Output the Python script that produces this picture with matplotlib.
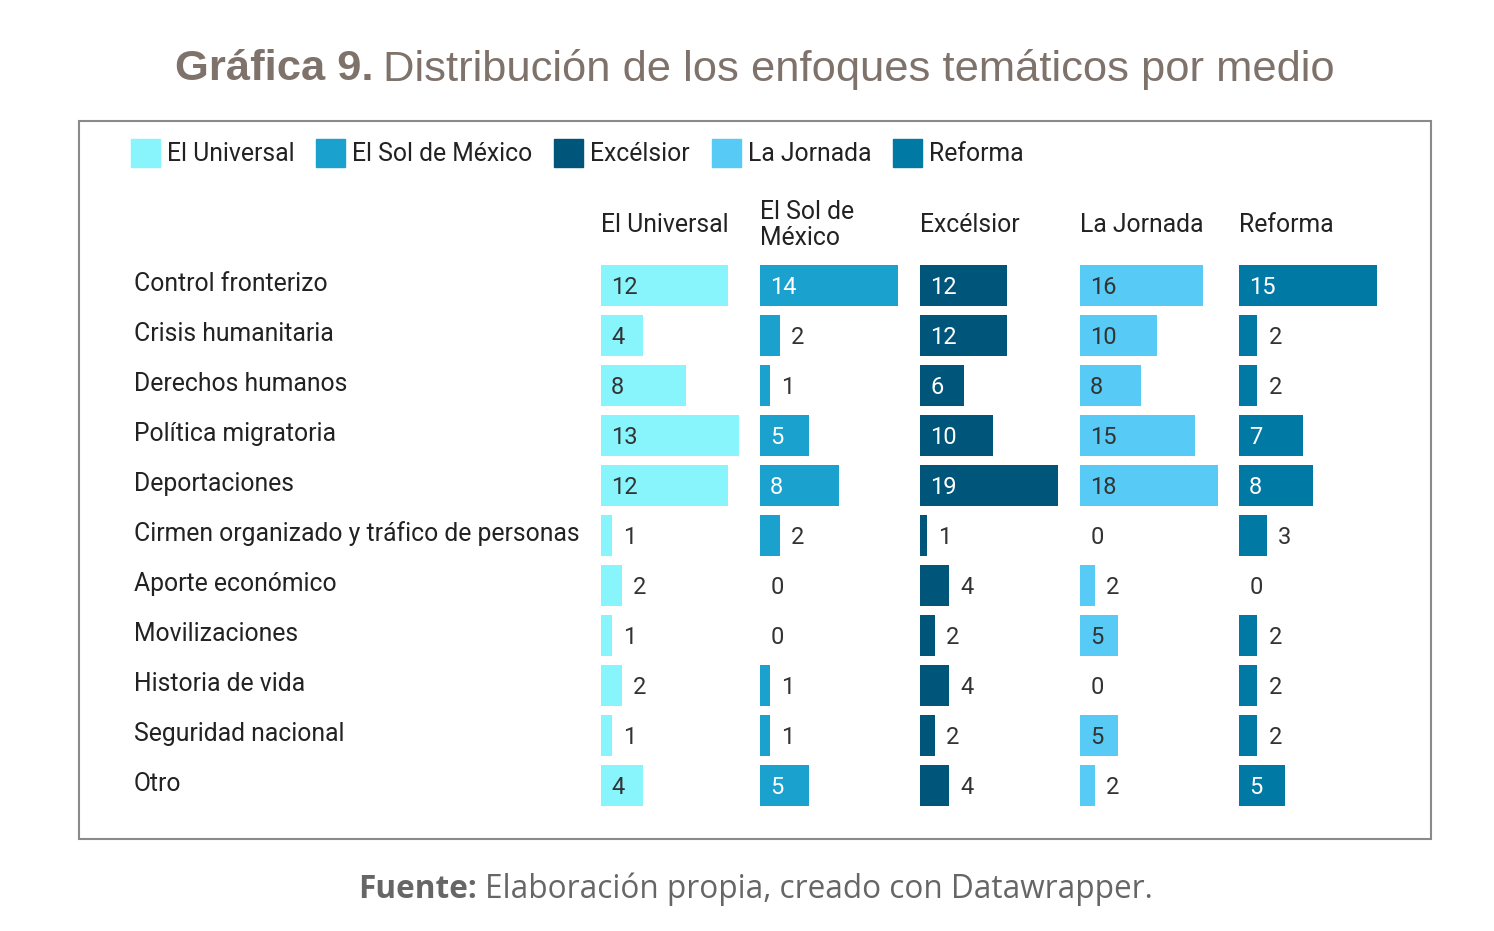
import matplotlib.pyplot as plt
from matplotlib.patches import Rectangle
from matplotlib.transforms import blended_transform_factory

# Datos
medios = ['El Universal', 'El Sol de México', 'Excélsior', 'La Jornada', 'Reforma']
encabezados = ['El Universal', 'El Sol de\nMéxico', 'Excélsior', 'La Jornada', 'Reforma']
temas = ['Control fronterizo', 'Crisis humanitaria', 'Derechos humanos', 'Política migratoria',
         'Deportaciones', 'Cirmen organizado y tráfico de personas', 'Aporte económico',
         'Movilizaciones', 'Historia de vida', 'Seguridad nacional', 'Otro']
el_universal = [12, 4, 8, 13, 12, 1, 2, 1, 2, 1, 4]
el_sol = [14, 2, 1, 5, 8, 2, 0, 0, 1, 1, 5]
excelsior = [12, 12, 6, 10, 19, 1, 4, 2, 4, 2, 4]
la_jornada = [16, 10, 8, 15, 18, 0, 2, 5, 0, 5, 2]
reforma = [15, 2, 2, 7, 8, 3, 0, 2, 2, 2, 5]
valores = [el_universal, el_sol, excelsior, la_jornada, reforma]

colores = ['#88f4fc', '#1aa1ce', '#00557a', '#58caf6', '#007aa5']
texto_dentro = ['#333333', 'white', 'white', '#333333', 'white']

W, H = 1494, 931
fig = plt.figure(figsize=(W / 100, H / 100), dpi=100)
plt.rcParams['font.family'] = ['Roboto', 'DejaVu Sans']

def fx(px):
    return px / W

def fy(py):
    return 1 - py / H

# titulo
t1 = fig.text(fx(175), fy(69), 'Gráfica 9.', fontsize=31.3, fontweight='bold',
              family='Liberation Sans', color='#7f726b', va='center', ha='left')
fig.canvas.draw()
bb = t1.get_window_extent()
fig.text(bb.x1 / W + fx(10), fy(69), 'Distribución de los enfoques temáticos por medio',
         fontsize=31.3, family='Liberation Sans', color='#7f726b', va='center', ha='left')

# marco
fig.patches.append(Rectangle((fx(79), fy(839)), fx(1431 - 79), fy(121) - fy(839),
                             transform=fig.transFigure, fill=False, edgecolor='#8a8a8a', lw=1.5))

# leyenda
leg_x = [131, 316, 554, 712, 893]
for x, m, c in zip(leg_x, medios, colores):
    fig.patches.append(Rectangle((fx(x), fy(167)), fx(29), fy(139) - fy(167),
                                 transform=fig.transFigure, color=c))
    fig.text(fx(x + 36), fy(154), m, fontsize=17.8, color='#222222', va='center', ha='left')

# columnas
col_x = [601, 760, 920, 1080, 1239]
ancho_max = 138
ax_w = 150
n = len(temas)
for k in range(5):
    vals = valores[k]
    vmax = max(vals)
    ax = fig.add_axes([fx(col_x[k]), fy(810), fx(ax_w), fy(260) - fy(810)])
    ax.set_xlim(0, vmax * ax_w / ancho_max)
    ax.set_ylim(n - 0.5, -0.5)
    ax.axis('off')
    ax.barh(range(n), vals, height=0.82, color=colores[k], edgecolor='none')
    for i, v in enumerate(vals):
        px = v / vmax * ancho_max
        if px > 30:
            ax.annotate(str(v), (0, i), xytext=(10, -2), textcoords='offset pixels',
                        fontsize=17, color=texto_dentro[k], va='center', ha='left')
        else:
            ax.annotate(str(v), (v, i), xytext=(11, -2), textcoords='offset pixels',
                        fontsize=17, color='#333333', va='center', ha='left')
    ax.text(0, -1.2, encabezados[k], fontsize=17.8, color='#222222', va='center', ha='left',
            linespacing=1.15)
    if k == 0:
        tr = blended_transform_factory(fig.transFigure, ax.transData)
        for i, t in enumerate(temas):
            ax.text(fx(134), i - 0.02, t, transform=tr, fontsize=17.8, color='#222222',
                    va='center', ha='left')

# fuente
f1 = fig.text(fx(358), fy(889), 'Fuente:', fontsize=22.7, fontweight='bold', family='Open Sans',
              color='#666666', va='center', ha='left')
fig.canvas.draw()
bb = f1.get_window_extent()
fig.text(bb.x1 / W + fx(8), fy(889), 'Elaboración propia, creado con Datawrapper.',
         fontsize=22.7, family='Open Sans', color='#666666', va='center', ha='left')

fig.savefig('out.png', dpi=100)
